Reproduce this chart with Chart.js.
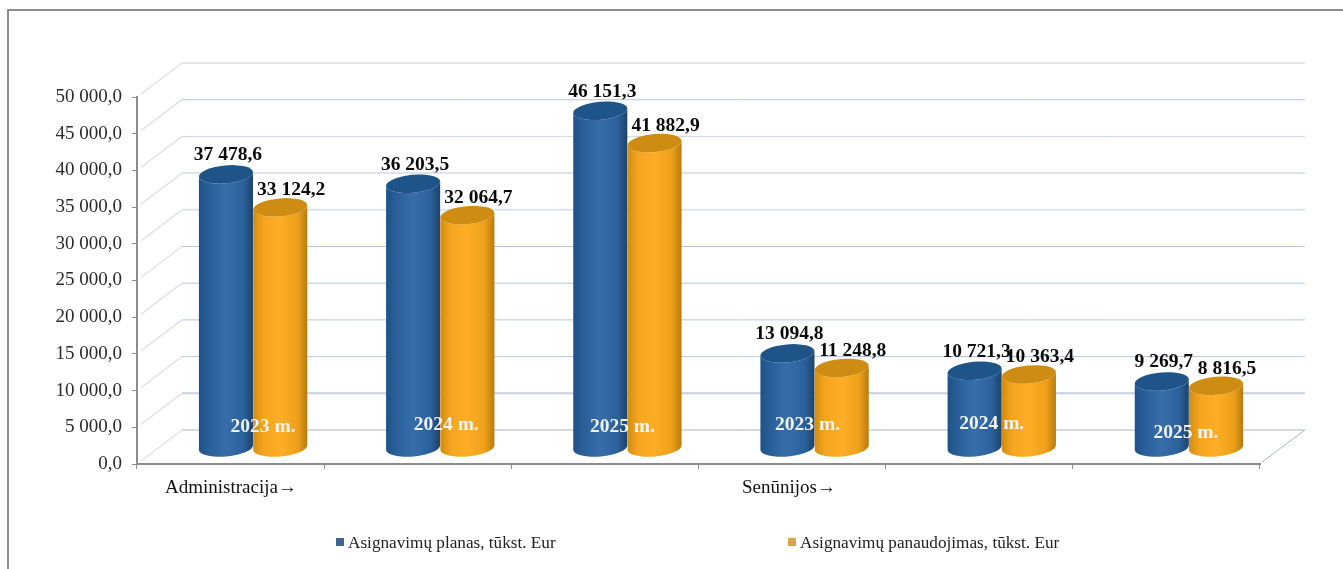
<!DOCTYPE html>
<html><head><meta charset="utf-8">
<style>
html,body{margin:0;padding:0;background:#fff;overflow:hidden}
#wrap{position:absolute;left:0;top:0;width:1343px;height:569px}
#frame{position:absolute;left:7px;top:9px;width:1340px;height:570px;border:2px solid #8c8c8c;box-sizing:border-box}
canvas{position:absolute;left:0;top:0;filter:blur(0.7px)}
</style>
<script src="https://cdn.jsdelivr.net/npm/chart.js@4"></script>
</head><body><div id="wrap"><div id="frame"></div><canvas id="c" width="1343" height="569"></canvas></div>
<script>
const categories=['2023 m.','2024 m.','2025 m.','2023 m.','2024 m.','2025 m.'];
const groupLabels=['Administracija→','Senūnijos→'];
const planValues=[37478.6,36203.5,46151.3,13094.8,10721.3,9269.7];
const usedValues=[33124.2,32064.7,41882.9,11248.8,10363.4,8816.5];
const planLabel='Asignavimų planas, tūkst. Eur';
const usedLabel='Asignavimų panaudojimas, tūkst. Eur';
const yearNudge=[[10,1],[6,-1],[-5,1],[-7,-1],[-10,-2],[-3,7]];
const gridStyles=[['#a9bcd6',1],['#c4cfe0',2],['#b3c6e2',1],['#b3c6e2',1],['#b3c6e2',1],['#b3c6e2',1],['#dde3ec',2],['#dfe4ec',2],['#c7d6ea',1],['#b3c6e2',1],['#e4e6ea',2]];

const DEPTH_X=45,DEPTH_Y=-34,MID_Y=-16.5;
const SERIF='"Liberation Serif",serif';
const fmt=(v,d)=>{const [i,f]=v.toFixed(d).split('.');return i.replace(/\B(?=(\d{3})+$)/g,' ')+','+f;};
const shade={ '#2f6aa6':['#1e5287','#2a609a','#376da9','#2b619b','#1c426b','#1f5488'],
              '#fbab22':['#d18c12','#f5a51e','#fdae26','#eda01a','#b97a0c','#cf8c12'] };

function cylinder(ctx,x,top,base,w,color){
  const s=shade[color],rx=w/2,ry=9,rot=-0.09;
  const g=ctx.createLinearGradient(x-rx,0,x+rx,0);
  g.addColorStop(0,s[0]);g.addColorStop(.2,s[1]);g.addColorStop(.5,s[2]);g.addColorStop(.82,s[3]);g.addColorStop(1,s[4]);
  ctx.beginPath();
  ctx.ellipse(x,top,rx,ry,rot,Math.PI,0,true);
  ctx.ellipse(x,base,rx,ry,rot,0,Math.PI,false);
  ctx.closePath();
  ctx.fillStyle=g;ctx.fill();
  ctx.beginPath();ctx.ellipse(x,top,rx,ry,rot,0,Math.PI*2);ctx.fillStyle=s[5];ctx.fill();
}

const walls={id:'walls',beforeDatasetsDraw(chart){
  const {ctx,scales:{y},chartArea:a}=chart;ctx.save();
  y.ticks.forEach((t,i)=>{
    const py=y.getPixelForValue(t.value);
    ctx.beginPath();ctx.moveTo(a.left+4,py-3);ctx.lineTo(a.left+DEPTH_X,py+DEPTH_Y);
    ctx.strokeStyle='#dfe2e7';ctx.lineWidth=1.5;ctx.stroke();
    if(i>0){
      const st=gridStyles[i];
      ctx.beginPath();ctx.moveTo(a.left+DEPTH_X,py+DEPTH_Y);ctx.lineTo(a.right+DEPTH_X,py+DEPTH_Y);
      ctx.strokeStyle=st[0];ctx.lineWidth=st[1];ctx.stroke();
    }
  });
  const p0=y.getPixelForValue(0);
  ctx.beginPath();ctx.moveTo(a.left+DEPTH_X,p0+DEPTH_Y);ctx.lineTo(a.right+DEPTH_X,p0+DEPTH_Y);
  ctx.lineTo(a.right+2,p0-2);ctx.strokeStyle='#a9b5c6';ctx.lineWidth=1;ctx.stroke();
  ctx.restore();
},
beforeDatasetDraw(){return false;},
afterDatasetsDraw(chart){
  const {ctx,scales:{y}}=chart;ctx.save();
  const y0=y.getPixelForValue(0);
  chart.data.datasets.forEach((ds,d)=>{
    chart.getDatasetMeta(d).data.forEach(el=>{
      const cx=el.x+DEPTH_X/2, bot=y0+MID_Y;
      cylinder(ctx,cx,el.y+MID_Y+(d?3:2),bot,el.width,ds.backgroundColor);
    });
  });
  ctx.textAlign='center';ctx.textBaseline='middle';
  chart.data.datasets.forEach((ds,d)=>{
    chart.getDatasetMeta(d).data.forEach((el,i)=>{
      ctx.font='bold 19.5px '+SERIF;ctx.fillStyle='#0a0a0a';
      ctx.fillText(fmt(ds.data[i],1),el.x+DEPTH_X/2+(d?11:2),el.y+MID_Y+(d?-14:-17));
    });
  });
  const meta=chart.getDatasetMeta(0).data,meta2=chart.getDatasetMeta(1).data;
  categories.forEach((c,i)=>{
    const cx=(meta[i].x+meta2[i].x)/2+DEPTH_X/2+yearNudge[i][0];
    ctx.font='bold 19.5px '+SERIF;ctx.fillStyle='#eef3f8';
    ctx.fillText(c,cx,426+yearNudge[i][1]);
  });
  // group captions
  ctx.font='19px '+SERIF;ctx.fillStyle='#111';ctx.textAlign='left';
  ctx.fillText(groupLabels[0],165,488);
  ctx.fillText(groupLabels[1],742,488);
  // legend
  ctx.font='17.2px '+SERIF;ctx.fillStyle='#222';
  ctx.fillText(chart.data.datasets[0].label,348,543);
  ctx.fillText(chart.data.datasets[1].label,800,543);
  ctx.fillStyle='#3f6690';ctx.fillRect(336,538,8,8);
  ctx.fillStyle='#dda44a';ctx.fillRect(788,538,8,8);
  ctx.restore();
}};

new Chart(document.getElementById('c'),{
  type:'bar',
  data:{labels:categories,datasets:[
    {label:planLabel,data:planValues,backgroundColor:'#2f6aa6',categoryPercentage:.58,barPercentage:1},
    {label:usedLabel,data:usedValues,backgroundColor:'#fbab22',categoryPercentage:.58,barPercentage:1}
  ]},
  options:{responsive:false,animation:false,devicePixelRatio:1,
    layout:{padding:{left:0,top:97,right:83,bottom:0}},
    plugins:{legend:{display:false},tooltip:{enabled:false}},
    scales:{
      x:{afterFit(s){s.height=105;},ticks:{display:false},
        grid:{drawOnChartArea:false,drawTicks:true,tickLength:5,color:'#8c8c8c',offset:true},
        border:{color:'#8c8c8c',width:2}},
      y:{min:0,max:50000,afterFit(s){s.width=137;},
        ticks:{stepSize:5000,padding:10,color:'#2a2a2a',font:{family:SERIF,size:19},callback:v=>fmt(v,1)},
        grid:{drawOnChartArea:false,drawTicks:true,tickLength:5,color:'#8c8c8c'},
        border:{color:'#8c8c8c',width:2}}
    }
  },
  plugins:[walls]
});
</script></body></html>
